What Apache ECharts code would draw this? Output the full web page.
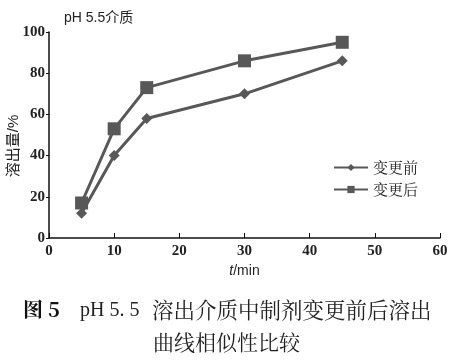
<!DOCTYPE html>
<html><head><meta charset="utf-8">
<script src="https://cdn.jsdelivr.net/npm/echarts@6/dist/echarts.min.js"></script>
<style>html,body{margin:0;padding:0;background:#fff}#c{width:454px;height:361px}</style>
</head><body><div id="c"></div>
<script>
var times = [5, 10, 15, 30, 45];
var before = [12, 40, 58, 70, 86];
var after = [17, 53, 73, 86, 95];
var seriesNames = ['变更前', '变更后'];
var xTicks = [0, 10, 20, 30, 40, 50, 60];
var yTicks = [0, 20, 40, 60, 80, 100];

var chart = echarts.init(document.getElementById('c'));
var lineColor = '#585858';
var serif = '"Liberation Serif","DejaVu Serif",serif';
var sans = '"Liberation Sans","Noto Sans CJK SC",sans-serif';
var cjkSerif = '"Noto Serif CJK SC","Liberation Serif","Noto Sans CJK SC",serif';
chart.setOption({
  animation: false,
  backgroundColor: '#fff',
  grid: {left: 49, right: 14, top: 32, bottom: 123, containLabel: false, outerBoundsMode: 'none'},
  title: [
    {text: 'pH 5.5介质', left: 64, top: 11, padding: 0, textStyle: {fontSize: 14, fontWeight: 'normal', color: '#222', fontFamily: sans}},
    {text: '图 5', left: 23, top: 299, padding: 0, textStyle: {fontSize: 20, fontWeight: 'bold', color: '#111', fontFamily: cjkSerif}},
    {text: 'pH 5. 5', left: 80, top: 301, padding: 0, textStyle: {fontSize: 20, fontWeight: 'normal', color: '#222', fontFamily: serif}},
    {text: '溶出介质中制剂变更前后溶出', left: 152, top: 299, padding: 0,
     textStyle: {fontSize: 21.5, fontWeight: 'normal', color: '#222', fontFamily: cjkSerif}},
    {text: '曲线相似性比较', left: 153, top: 332, padding: 0,
     textStyle: {fontSize: 21, fontWeight: 'normal', color: '#222', fontFamily: cjkSerif}}
  ],
  graphic: [
    {type: 'text', x: 14, y: 146, rotation: Math.PI / 2,
     style: {text: '溶出量/%', fontSize: 15, fill: '#222', fontFamily: sans, textAlign: 'center', textVerticalAlign: 'middle'}}
  ],
  legend: {
    data: seriesNames, orient: 'vertical', left: 333, top: 160, itemGap: 7, padding: 0,
    itemWidth: 34, itemHeight: 9,
    textStyle: {fontSize: 15, color: '#222', fontFamily: cjkSerif}
  },
  xAxis: {
    type: 'value', min: 0, max: 60, interval: 10,
    name: '{i|t}/min', nameLocation: 'middle', nameGap: 26,
    nameTextStyle: {fontSize: 14, color: '#222', fontFamily: sans,
      rich: {i: {fontSize: 14, fontStyle: 'italic', color: '#222', fontFamily: sans}}},
    axisLine: {lineStyle: {color: '#111', width: 1.5}},
    axisTick: {inside: true, length: 5, lineStyle: {color: '#111'}},
    splitLine: {show: false},
    axisLabel: {fontSize: 15, fontWeight: 'bold', color: '#222', fontFamily: serif, margin: 6,
      formatter: function(v){ return xTicks.indexOf(v) >= 0 ? String(v) : ''; }}
  },
  yAxis: {
    type: 'value', min: 0, max: 100, interval: 20,
    axisLine: {show: true, lineStyle: {color: '#111', width: 1.5}},
    axisTick: {show: true, inside: false, length: 3, lineStyle: {color: '#111'}},
    splitLine: {show: false},
    axisLabel: {fontSize: 15, fontWeight: 'bold', color: '#222', fontFamily: serif, margin: 4,
      formatter: function(v){ return yTicks.indexOf(v) >= 0 ? String(v) : ''; }}
  },
  series: [
    {name: seriesNames[0], type: 'line', data: times.map(function(t,i){return [t, before[i]];}),
     symbol: 'diamond', symbolSize: 11, lineStyle: {color: lineColor, width: 3},
     itemStyle: {color: lineColor}},
    {name: seriesNames[1], type: 'line', data: times.map(function(t,i){return [t, after[i]];}),
     symbol: 'rect', symbolSize: 13, lineStyle: {color: lineColor, width: 3},
     itemStyle: {color: lineColor}}
  ]
});
</script></body></html>
